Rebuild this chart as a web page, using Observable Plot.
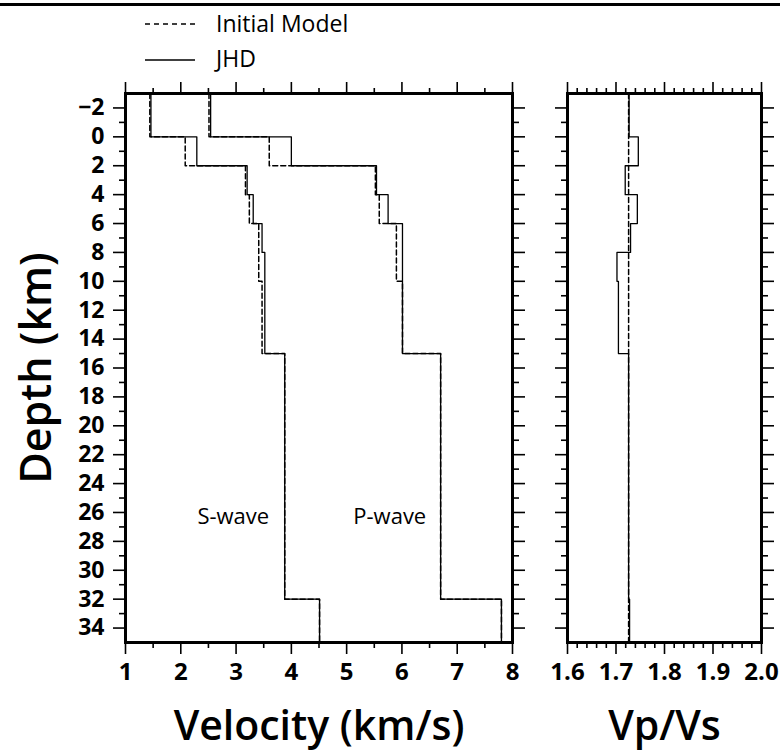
<!DOCTYPE html>
<html><head><meta charset="utf-8">
<script src="https://cdn.jsdelivr.net/npm/d3@7"></script>
<script src="https://cdn.jsdelivr.net/npm/@observablehq/plot@0.6"></script>
<style>
body{margin:0;background:#fff;font-family:"Open Sans",sans-serif;}
#wrap{position:relative;width:780px;height:753px;overflow:hidden;background:#fff;}
#wrap > svg{position:absolute;top:0;}
#rule{position:absolute;left:0;top:3px;width:780px;height:3px;background:#000;}
.leg{position:absolute;left:145px;display:flex;align-items:center;font-size:23px;line-height:30px;color:#000;z-index:3;}
#wrap .leg svg{position:static;margin-right:21px;}
</style></head><body>
<div id="wrap"><div id="rule"></div></div>
<script>
// ---- data ----
const layerTops    = [-3, 0, 2, 4, 6, 8, 10, 15, 32];
const layerBottoms = [ 0, 2, 4, 6, 8, 10, 15, 32, 35];
const vsInitial    = [1.44, 2.08, 3.17, 3.24, 3.41, 3.41, 3.47, 3.88, 4.51];
const vsJHD        = [1.46, 2.29, 3.20, 3.31, 3.47, 3.52, 3.52, 3.88, 4.51];
const vpInitial    = [2.51, 3.60, 5.52, 5.59, 5.90, 5.90, 6.01, 6.70, 7.80];
const vpJHD        = [2.54, 4.00, 5.54, 5.75, 6.01, 6.01, 6.01, 6.70, 7.80];
const ratioInitial = [1.726, 1.726, 1.726, 1.726, 1.726, 1.726, 1.726, 1.726, 1.726];
const ratioJHD     = [1.727, 1.746, 1.719, 1.744, 1.730, 1.702, 1.705, 1.726, 1.728];
const depthTicks   = [-2, 0, 2, 4, 6, 8, 10, 12, 14, 16, 18, 20, 22, 24, 26, 28, 30, 32, 34];
const depthMinor   = [-1, 1, 3, 5, 7, 9, 11, 13, 15, 17, 19, 21, 23, 25, 27, 29, 31, 33];
const velTicks     = [1, 2, 3, 4, 5, 6, 7, 8];
const velMinor     = [1.5, 2.5, 3.5, 4.5, 5.5, 6.5, 7.5];
const ratioTicks   = [1.6, 1.7, 1.8, 1.9, 2.0];
const ratioMinor   = [1.62,1.64,1.66,1.68,1.72,1.74,1.76,1.78,1.82,1.84,1.86,1.88,1.92,1.94,1.96,1.98];
const waveLabels   = ["S-wave", "P-wave"];
const waveLabelV   = [2.95, 5.78];
const waveLabelD   = [26.3, 26.3];
const legendItems  = ["Initial Model", "JHD"];

function profile(values) {
  const pts = [];
  values.forEach((v, i) => { pts.push({v, d: layerTops[i]}); pts.push({v, d: layerBottoms[i]}); });
  return pts;
}

const FONT = "'Open Sans', sans-serif";
const yScale = {domain: [-3, 35], reverse: true};
const dash = "5,3";

function axes(xMajor, xMinor, labelFmt, withYLabels) {
  const common = {label: null, strokeWidth: 1.6};
  const noText = {fill: "none"};
  return [
    withYLabels
      ? Plot.axisY(depthTicks, {...common, anchor: "left", tickSize: 12, tickPadding: 9,
          fontSize: 23, fontWeight: "bold", tickFormat: d => d3.format("d")(d)})
      : Plot.axisY(depthTicks, {...common, ...noText, anchor: "left", tickSize: 12}),
    Plot.axisY(depthMinor, {...common, ...noText, anchor: "left", tickSize: 6}),
    Plot.axisY(depthTicks, {...common, ...noText, anchor: "right", tickSize: 12}),
    Plot.axisY(depthMinor, {...common, ...noText, anchor: "right", tickSize: 6}),
    Plot.axisX(xMajor, {...common, anchor: "bottom", tickSize: 12, tickPadding: 8,
      fontSize: 24, fontWeight: "bold", tickFormat: labelFmt}),
    Plot.axisX(xMinor, {...common, ...noText, anchor: "bottom", tickSize: 6}),
    Plot.axisX(xMajor, {...common, ...noText, anchor: "top", tickSize: 12}),
    Plot.axisX(xMinor, {...common, ...noText, anchor: "top", tickSize: 6})
  ];
}

const left = Plot.plot({
  width: 540, height: 753,
  marginTop: 93, marginBottom: 111, marginLeft: 125, marginRight: 28,
  x: {domain: [1, 8]},
  y: yScale,
  style: {fontFamily: FONT, background: "transparent", color: "#000"},
  marks: [
    ...axes(velTicks, velMinor, d => d3.format("d")(d), true),
    Plot.line(profile(vsJHD), {x: "v", y: "d", stroke: "#000", strokeWidth: 1.3}),
    Plot.line(profile(vpJHD), {x: "v", y: "d", stroke: "#000", strokeWidth: 1.3}),
    Plot.line(profile(vsInitial), {x: "v", y: "d", stroke: "#000", strokeWidth: 1.5, strokeDasharray: dash}),
    Plot.line(profile(vpInitial), {x: "v", y: "d", stroke: "#000", strokeWidth: 1.5, strokeDasharray: dash}),
    Plot.text(waveLabels, {x: (d, i) => waveLabelV[i], y: (d, i) => waveLabelD[i], text: d => d,
      fontSize: 22, fontWeight: 500, fill: "#000"}),
    Plot.text(["Depth (km)"], {text: d => d, frameAnchor: "left", textAnchor: "middle", lineAnchor: "middle",
      dx: -88, rotate: -90, fontSize: 43, fontWeight: 600, fill: "#000"}),
    Plot.text(["Velocity (km/s)"], {text: d => d, frameAnchor: "bottom", textAnchor: "middle", lineAnchor: "middle",
      dy: 84, fontSize: 41, fontWeight: 600, fill: "#000"}),
    Plot.frame({stroke: "#000", strokeWidth: 3})
  ]
});
left.style.left = "0px";

const right = Plot.plot({
  width: 240, height: 753,
  marginTop: 93, marginBottom: 111, marginLeft: 27, marginRight: 19,
  x: {domain: [1.6, 2.0]},
  y: yScale,
  style: {fontFamily: FONT, background: "transparent", color: "#000"},
  marks: [
    ...axes(ratioTicks, ratioMinor, d => d3.format(".1f")(d), false),
    Plot.line(profile(ratioJHD), {x: "v", y: "d", stroke: "#000", strokeWidth: 1.3}),
    Plot.line(profile(ratioInitial), {x: "v", y: "d", stroke: "#000", strokeWidth: 1.5, strokeDasharray: dash}),
    Plot.text(["Vp/Vs"], {text: d => d, frameAnchor: "bottom", textAnchor: "middle", lineAnchor: "middle",
      dy: 84, fontSize: 41, fontWeight: 600, fill: "#000"}),
    Plot.frame({stroke: "#000", strokeWidth: 3})
  ]
});
right.style.left = "540px";

const wrap = document.getElementById("wrap");
wrap.appendChild(left);
wrap.appendChild(right);

// legend
const legTops = [8, 43];
legendItems.forEach((name, i) => {
  const div = document.createElement("div");
  div.className = "leg";
  div.style.top = legTops[i] + "px";
  const ns = "http://www.w3.org/2000/svg";
  const sw = document.createElementNS(ns, "svg");
  sw.setAttribute("width", 50); sw.setAttribute("height", 30);
  const ln = document.createElementNS(ns, "line");
  ln.setAttribute("x1", 0); ln.setAttribute("x2", 50);
  ln.setAttribute("y1", i === 0 ? 16 : 17); ln.setAttribute("y2", i === 0 ? 16 : 17);
  ln.setAttribute("stroke", "#000"); ln.setAttribute("stroke-width", 1.4);
  if (i === 0) ln.setAttribute("stroke-dasharray", "5,4");
  sw.appendChild(ln);
  div.appendChild(sw);
  const t = document.createElement("span");
  t.textContent = name;
  div.appendChild(t);
  wrap.appendChild(div);
});
</script>
</body></html>
